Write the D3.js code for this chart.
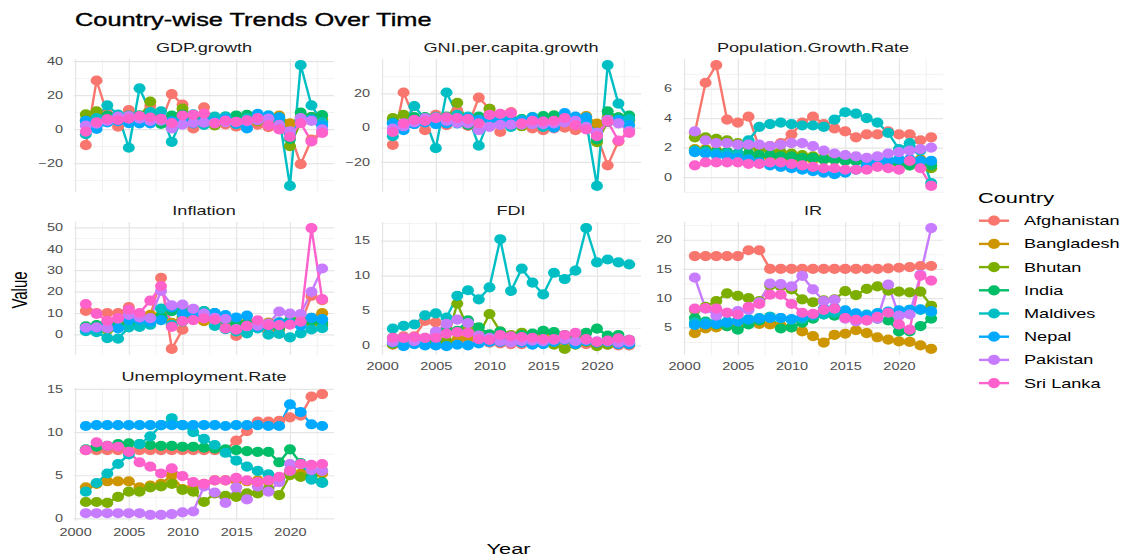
<!DOCTYPE html>
<html>
<head>
<meta charset="utf-8">
<script src="https://cdn.jsdelivr.net/npm/d3@7"></script>
<style>
  html, body { margin: 0; padding: 0; background: #fff; }
  svg { display: block; font-family: "Liberation Sans", Arial, sans-serif; }
</style>
</head>
<body>
<svg id="chart" width="1131" height="557"></svg>
<script>
// ---- data ---------------------------------------------------------------
const years = [2001, 2002, 2003, 2004, 2005, 2006, 2007, 2008, 2009, 2010, 2011, 2012,
               2013, 2014, 2015, 2016, 2017, 2018, 2019, 2020, 2021, 2022, 2023];

const countries = ["Afghanistan", "Bangladesh", "Bhutan", "India", "Maldives", "Nepal", "Pakistan", "Sri Lanka"];
const countryColors = ["#F8766D", "#CD9600", "#7CAE00", "#00BE67", "#00BFC4", "#00A9FF", "#C77CFF", "#FF61CC"];

const metricNames = ["GDP.growth", "GNI.per.capita.growth", "Population.Growth.Rate",
                     "Inflation", "FDI", "IR", "Unemployment.Rate"];

// one row per country, in the order of `countries`
const gdpGrowth = [
  [-9.4, 28.6, 8.8, 1.4, 11.2, 5.4, 13.8, 3.9, 20.6, 14.4, 0.4, 12.8, 5.6, 2.7, 1.5, 2.3, 2.6, 1.2, 3.9, -2.4, -20.7, -6.2, -1.6],
  [5.3, 3.8, 5.3, 5.2, 6.5, 6.7, 7.1, 6.0, 5.0, 5.6, 6.5, 6.5, 6.0, 6.1, 6.6, 7.1, 6.6, 7.3, 7.9, 3.4, 6.9, 7.1, 5.8],
  [8.6, 10.5, 7.2, 5.9, 7.1, 6.8, 16.2, 4.7, 6.7, 12.0, 7.9, 5.1, 2.1, 5.7, 6.6, 8.1, 4.7, 3.1, 5.8, -10.0, 4.1, 5.2, 4.9],
  [4.8, 3.8, 7.9, 7.9, 7.9, 8.1, 7.7, 3.1, 7.9, 8.5, 5.2, 5.5, 6.4, 7.4, 8.0, 8.3, 6.8, 6.5, 3.9, -5.8, 9.7, 7.0, 8.2],
  [-3.0, 6.5, 14.0, 8.5, -11.0, 24.0, 10.0, 10.5, -7.5, 7.3, 8.6, 2.5, 7.3, 7.3, 2.9, 6.3, 7.2, 8.1, 6.9, -33.5, 37.7, 13.9, 4.0],
  [4.8, 0.1, 3.9, 4.7, 3.5, 3.4, 3.4, 6.1, 4.5, 4.8, 3.4, 4.8, 4.1, 6.0, 3.3, 0.4, 9.0, 7.6, 6.7, -2.4, 4.8, 5.6, 2.0],
  [2.0, 3.2, 4.8, 7.4, 7.7, 6.2, 4.8, 5.0, 0.4, 2.6, 3.6, 3.8, 3.7, 4.1, 4.1, 4.6, 5.2, 6.2, 2.5, -1.3, 6.5, 4.8, -0.2],
  [-1.5, 4.0, 5.9, 5.4, 6.2, 7.7, 6.8, 6.0, 3.5, 8.0, 8.4, 9.1, 3.4, 5.0, 4.2, 5.1, 6.5, 2.3, -0.2, -4.6, 3.5, -7.3, -2.3]
];

const gniGrowth = [
  [-10.0, 20.5, 5.5, -1.5, 7.5, 1.5, 10.0, 1.0, 17.5, 11.0, -2.5, 9.0, 2.5, -0.5, -1.5, -0.5, 0.0, -1.5, 1.5, -4.5, -22.0, -8.0, -1.5],
  [3.5, 2.0, 3.8, 3.8, 5.0, 5.4, 5.9, 4.9, 4.0, 4.5, 5.4, 5.4, 4.9, 5.0, 5.4, 6.0, 5.5, 6.2, 6.8, 2.3, 5.7, 5.9, 4.8],
  [5.5, 7.5, 4.5, 3.5, 5.0, 5.0, 14.5, 3.0, 5.0, 11.0, 6.5, 3.7, 0.8, 4.4, 5.4, 7.0, 3.6, 2.1, 4.8, -8.5, 3.4, 4.5, 4.2],
  [3.0, 2.0, 6.2, 6.2, 6.3, 6.5, 6.2, 1.6, 6.4, 7.0, 3.8, 4.1, 5.0, 6.1, 6.7, 7.0, 5.6, 5.3, 2.8, -6.8, 9.5, 6.0, 7.0],
  [-5.0, 2.5, 12.5, 5.0, -12.0, 20.5, 7.5, 6.5, -10.5, 5.5, 6.5, 0.5, 4.5, 5.0, 0.5, 2.5, 3.5, 5.0, 3.5, -34.0, 36.5, 14.0, 5.0],
  [2.5, -1.5, 2.0, 3.0, 2.0, 2.5, 2.5, 5.5, 4.5, 5.0, 3.5, 4.5, 4.0, 6.0, 3.5, 0.0, 8.5, 6.5, 6.0, -3.0, 3.5, 4.5, 1.5],
  [-0.5, 0.8, 3.0, 5.5, 6.0, 4.0, 2.7, 2.5, -1.5, 0.5, 1.6, 1.8, 1.7, 2.0, 2.0, 2.5, 3.0, 4.0, 0.5, -3.0, 4.5, 2.5, -2.0],
  [-2.5, 2.5, 4.5, 4.0, 5.5, 6.0, 5.5, 5.0, 2.5, 7.5, 8.0, 8.5, 2.5, 4.0, 3.5, 4.0, 5.5, 1.5, -1.0, -5.0, 3.5, -7.5, -3.0]
];

const popGrowth = [
  [3.0, 6.4, 7.6, 3.9, 3.7, 4.1, 2.0, 2.1, 2.3, 2.9, 3.7, 4.1, 3.6, 3.3, 3.1, 2.7, 2.9, 2.9, 3.1, 2.9, 2.9, 2.5, 2.7],
  [1.9, 1.9, 1.8, 1.7, 1.6, 1.5, 1.4, 1.3, 1.3, 1.2, 1.2, 1.2, 1.2, 1.2, 1.2, 1.2, 1.1, 1.1, 1.1, 1.1, 1.1, 1.2, 1.0],
  [2.7, 2.7, 2.6, 2.5, 2.3, 2.1, 1.9, 1.8, 1.7, 1.6, 1.5, 1.4, 1.3, 1.2, 1.2, 1.1, 1.1, 1.0, 1.0, 0.9, 0.8, 0.7, 0.6],
  [1.8, 1.8, 1.7, 1.7, 1.6, 1.6, 1.5, 1.5, 1.4, 1.4, 1.3, 1.3, 1.2, 1.2, 1.1, 1.1, 1.0, 1.0, 1.0, 1.0, 0.8, 0.7, 0.8],
  [1.8, 1.7, 1.6, 1.6, 1.6, 2.5, 3.4, 3.6, 3.7, 3.6, 3.5, 3.5, 3.4, 3.9, 4.4, 4.3, 4.0, 3.7, 3.0, 1.9, 2.3, 1.8, -0.4],
  [1.7, 1.6, 1.5, 1.4, 1.3, 1.2, 1.0, 0.8, 0.7, 0.6, 0.5, 0.4, 0.3, 0.2, 0.3, 0.5, 0.8, 1.0, 1.1, 1.2, 1.2, 1.1, 1.1],
  [3.1, 2.5, 2.3, 2.3, 2.2, 2.2, 2.2, 2.1, 2.2, 2.3, 2.3, 2.1, 1.8, 1.6, 1.5, 1.4, 1.3, 1.4, 1.6, 1.7, 1.8, 1.9, 2.0],
  [0.8, 1.0, 1.0, 1.0, 1.0, 0.9, 0.9, 1.0, 1.0, 0.9, 0.8, 0.7, 0.6, 0.6, 0.5, 0.5, 0.5, 0.7, 0.6, 0.5, 1.1, 0.6, -0.6]
];

const inflation = [
  [11.0, 10.0, 10.0, 10.0, 12.7, 7.3, 8.7, 26.4, -6.8, 2.2, 11.8, 6.4, 7.4, 4.7, -0.7, 4.4, 5.0, 0.6, 2.3, 5.6, 5.1, 18.0, 16.0],
  [1.9, 3.7, 5.4, 6.1, 7.0, 6.8, 9.1, 8.9, 5.4, 8.1, 10.7, 6.2, 7.5, 7.0, 6.2, 5.5, 5.7, 5.5, 5.6, 5.7, 5.6, 7.7, 9.9],
  [3.4, 2.5, 2.1, 4.6, 5.3, 5.0, 5.2, 8.3, 4.4, 7.0, 8.8, 10.9, 7.0, 8.2, 4.6, 3.3, 4.3, 3.6, 2.7, 5.6, 7.4, 5.6, 4.2],
  [3.8, 4.3, 3.8, 3.8, 4.2, 5.8, 6.4, 8.4, 10.9, 12.0, 8.9, 9.5, 10.0, 6.7, 4.9, 4.9, 3.3, 3.9, 3.7, 6.6, 5.1, 6.7, 5.6],
  [1.5, 1.0, -1.7, -2.0, 3.3, 3.5, 4.5, 12.0, 4.5, 6.1, 11.3, 10.9, 4.0, 2.5, 1.4, 0.5, 2.8, -0.1, 0.2, -1.4, 0.5, 2.3, 2.9],
  [2.7, 3.0, 5.7, 2.8, 6.8, 6.9, 5.8, 6.7, 12.6, 9.6, 9.6, 8.3, 9.9, 9.0, 7.9, 8.8, 3.6, 4.1, 5.6, 5.1, 4.1, 7.7, 7.1],
  [3.1, 3.3, 2.9, 7.4, 9.1, 7.9, 7.6, 20.3, 13.6, 13.9, 11.9, 9.7, 7.7, 7.2, 2.5, 3.8, 4.1, 5.1, 10.6, 9.7, 9.5, 19.9, 30.8],
  [14.2, 9.6, 6.3, 7.6, 11.6, 10.0, 15.8, 22.6, 3.5, 6.2, 6.7, 7.5, 6.9, 2.8, 2.2, 4.0, 6.6, 4.3, 4.3, 4.6, 6.0, 49.7, 16.5]
];

const fdi = [
  [0.1, 1.3, 1.3, 3.5, 3.3, 3.0, 1.9, 0.5, 0.4, 0.4, 0.3, 0.2, 0.2, 0.2, 0.9, 0.5, 0.3, 0.6, 0.2, 0.1, 0.1, 0.0, 0.0],
  [0.2, 0.1, 0.6, 0.8, 1.1, 0.6, 0.8, 1.2, 0.7, 1.2, 0.9, 1.2, 1.7, 1.5, 1.5, 0.9, 0.8, 0.9, 0.6, 0.4, 0.5, 0.4, 0.3],
  [0.2, 0.3, 0.5, 0.3, 0.7, 0.6, 6.0, 2.4, 1.5, 4.5, 2.0, 1.5, 1.8, 1.4, 0.3, 0.1, -0.5, 0.1, 0.5, -0.1, 0.1, 0.3, 0.2],
  [1.1, 1.0, 0.6, 0.8, 0.9, 2.1, 2.1, 3.6, 2.6, 1.6, 2.0, 1.3, 1.5, 1.7, 2.1, 1.9, 1.5, 1.6, 1.8, 2.4, 1.4, 1.5, 0.8],
  [2.4, 2.8, 3.0, 4.3, 4.6, 4.0, 7.1, 7.9, 6.6, 8.3, 15.2, 7.8, 11.0, 9.0, 7.3, 10.4, 9.5, 10.7, 16.8, 11.9, 12.3, 11.9, 11.6],
  [0.4, -0.1, 0.2, 0.0, 0.0, -0.1, 0.1, 0.0, 0.3, 0.5, 0.5, 0.5, 0.4, 0.1, 0.2, 0.5, 0.8, 0.2, 0.6, 0.4, 0.5, 0.2, 0.2],
  [0.5, 1.1, 0.6, 1.1, 2.0, 3.1, 3.7, 3.2, 1.4, 1.1, 0.6, 0.4, 0.6, 0.7, 0.6, 0.8, 0.9, 0.6, 0.8, 0.6, 0.6, 0.4, 0.5],
  [1.1, 1.1, 1.2, 1.1, 1.1, 1.7, 1.9, 1.8, 0.9, 0.8, 1.5, 1.3, 1.2, 1.1, 0.9, 0.9, 1.5, 1.8, 0.9, 0.5, 0.7, 1.0, 0.8]
];

const interestRate = [
  [17.2, 17.2, 17.2, 17.2, 17.2, 18.2, 18.2, 15.0, 15.0, 15.0, 15.0, 15.0, 15.0, 15.0, 15.0, 15.0, 15.0, 15.0, 15.1, 15.2, 15.3, 15.5, 15.5],
  [4.0, 4.8, 5.0, 5.2, 5.5, 5.8, 5.6, 5.5, 5.3, 5.0, 4.3, 3.5, 2.4, 3.7, 3.9, 4.5, 4.0, 3.3, 2.9, 2.6, 2.5, 1.9, 1.3],
  [8.0, 8.5, 9.5, 10.8, 10.4, 10.0, 9.5, 12.2, 12.0, 11.5, 9.8, 9.3, 9.6, 9.8, 11.2, 10.5, 11.6, 12.0, 11.3, 11.1, 11.0, 11.1, 8.7],
  [6.6, 6.0, 5.5, 5.2, 4.6, 5.5, 6.2, 6.8, 4.8, 5.0, 5.8, 6.5, 7.2, 7.0, 7.5, 7.0, 6.5, 6.5, 6.2, 4.3, 4.3, 5.2, 6.5],
  [5.8, 5.8, 5.9, 6.0, 6.2, 6.4, 6.6, 6.8, 6.6, 6.3, 6.5, 7.0, 7.2, 7.5, 7.6, 7.3, 7.2, 7.4, 7.6, 7.8, 8.0, 8.0, 7.6],
  [5.4, 5.5, 5.6, 5.8, 6.0, 6.3, 6.5, 6.6, 6.6, 6.4, 6.8, 7.2, 8.2, 8.3, 7.9, 7.4, 7.0, 7.4, 7.7, 7.9, 8.0, 8.1, 7.8],
  [13.5, 8.2, 7.0, 7.5, 7.8, 8.0, 9.3, 12.5, 12.4, 12.0, 13.8, 11.5, 9.5, 9.7, 6.5, 6.0, 6.2, 6.5, 12.3, 7.0, 7.2, 14.0, 22.0],
  [8.2, 8.3, 8.2, 7.5, 7.2, 8.5, 9.0, 10.6, 10.6, 9.0, 7.5, 7.3, 8.0, 8.2, 6.6, 6.3, 6.2, 6.8, 7.5, 5.5, 4.6, 13.8, 13.0]
];

const unemployment = [
  [7.9, 7.9, 7.9, 7.9, 7.9, 7.9, 7.9, 7.9, 7.9, 7.9, 7.9, 7.9, 7.9, 7.9, 9.0, 10.1, 11.2, 11.2, 11.3, 11.7, 11.9, 14.1, 14.4],
  [3.6, 4.0, 4.3, 4.3, 4.3, 3.6, 3.8, 4.0, 5.0, 3.4, 3.7, 4.0, 4.4, 4.4, 4.4, 4.3, 4.4, 4.3, 4.4, 5.4, 5.2, 4.7, 5.2],
  [1.9, 1.9, 1.8, 2.5, 3.1, 3.1, 3.6, 3.7, 4.0, 3.3, 3.1, 1.9, 2.9, 2.6, 2.5, 2.9, 2.9, 3.4, 2.7, 5.0, 4.8, 5.5, 5.5],
  [8.0, 8.3, 8.4, 8.6, 8.7, 8.6, 8.5, 8.4, 8.4, 8.3, 8.3, 8.2, 8.1, 8.0, 7.9, 7.8, 7.7, 7.7, 6.5, 8.0, 6.4, 4.8, 4.2],
  [3.1, 4.1, 5.2, 6.3, 7.4, 8.6, 9.5, 10.8, 11.6, 10.8, 10.0, 9.2, 8.5, 7.6, 6.7, 6.0, 5.5, 5.1, 4.6, 5.5, 6.3, 4.5, 4.1],
  [10.7, 10.8, 10.8, 10.8, 10.8, 10.8, 10.8, 10.8, 10.8, 10.8, 10.8, 10.8, 10.8, 10.7, 10.8, 10.8, 10.8, 10.7, 10.7, 13.2, 12.3, 10.9, 10.7],
  [0.6, 0.6, 0.6, 0.6, 0.6, 0.6, 0.4, 0.4, 0.5, 0.7, 0.8, 3.7, 3.0, 1.8, 3.6, 2.2, 3.7, 3.1, 4.2, 6.3, 6.3, 5.6, 5.5],
  [7.9, 8.8, 8.4, 8.3, 7.7, 6.5, 6.0, 5.2, 5.8, 4.9, 4.2, 4.0, 4.4, 4.4, 4.7, 4.4, 4.2, 4.4, 4.8, 5.5, 6.3, 6.2, 6.3]
];

const metricValues = [gdpGrowth, gniGrowth, popGrowth, inflation, fdi, interestRate, unemployment];

// axis breaks
const xTickValues = [2000, 2005, 2010, 2015, 2020];
const xMinorValues = [2002.5, 2007.5, 2012.5, 2017.5, 2022.5];
const yTickValues = [
  [-20, 0, 20, 40],
  [-20, 0, 20],
  [0, 2, 4, 6],
  [0, 10, 20, 30, 40, 50],
  [0, 5, 10, 15],
  [5, 10, 15, 20],
  [0, 5, 10, 15]
];

// ---- layout -------------------------------------------------------------
const SX = 1.45;                      // horizontal stretch applied to all text
const FONT = "Liberation Sans, Arial, sans-serif";
const colLeft = [74, 381, 683];
const rowTop = [59, 222, 388];
const panelW = 260, panelH = 133;
const nCols = 3;
const PT_RX = 6.0, PT_RY = 5.1, LINE_W = 2.4;

const svg = d3.select("#chart");

function label(parent, x, y, txt, size, fill, anchor, rotate) {
  return parent.append("text")
    .attr("transform", `translate(${x},${y}) scale(${SX},1)` + (rotate ? " rotate(-90)" : ""))
    .attr("text-anchor", anchor || "start")
    .attr("font-size", size)
    .attr("font-family", FONT)
    .attr("fill", fill)
    .text(txt);
}

// shared x scale (ggplot-style 5% expansion)
const yearSpan = d3.max(years) - d3.min(years);
const x = d3.scaleLinear()
  .domain([d3.min(years) - yearSpan * 0.05, d3.max(years) + yearSpan * 0.05])
  .range([0, panelW]);

// the bottom panel of each column carries the year labels
const nPanels = metricNames.length;
function hasXAxis(i) { return i + nCols >= nPanels; }

metricNames.forEach((name, i) => {
  const row = Math.floor(i / nCols), col = i % nCols;
  const g = svg.append("g").attr("transform", `translate(${colLeft[col]},${rowTop[row]})`);
  const vals = metricValues[i];

  const [lo, hi] = d3.extent(vals.flat());
  const pad = (hi - lo) * 0.05;
  const y = d3.scaleLinear().domain([lo - pad, hi + pad]).range([panelH, 0]);

  const major = yTickValues[i];
  const step = major[1] - major[0];
  const minor = [];
  for (let v = major[0] - step / 2; v <= hi + pad; v += step) if (v >= lo - pad) minor.push(v);

  // minor grid
  const gMinY = g.append("g").call(d3.axisLeft(y).tickValues(minor).tickSize(-panelW).tickFormat(""));
  const gMinX = g.append("g").attr("transform", `translate(0,${panelH})`)
    .call(d3.axisBottom(x).tickValues(xMinorValues).tickSize(-panelH).tickFormat(""));
  [gMinY, gMinX].forEach(a => {
    a.select(".domain").remove();
    a.selectAll("line").attr("stroke", "#EFEFEF").attr("stroke-width", 0.8);
  });

  // major grid
  const gMajY = g.append("g").call(d3.axisLeft(y).tickValues(major).tickSize(-panelW).tickFormat(""));
  const gMajX = g.append("g").attr("transform", `translate(0,${panelH})`)
    .call(d3.axisBottom(x).tickValues(xTickValues).tickSize(-panelH).tickFormat(""));
  [gMajY, gMajX].forEach(a => {
    a.select(".domain").remove();
    a.selectAll("line").attr("stroke", "#E5E5E5").attr("stroke-width", 1.2);
  });

  // y tick labels
  const ay = g.append("g")
    .attr("font-family", FONT).attr("font-size", 12.5)
    .call(d3.axisLeft(y).tickValues(major).tickSize(0).tickPadding(11));
  ay.select(".domain").remove();
  ay.selectAll("text")
    .attr("fill", "#4D4D4D")
    .attr("x", -11 / SX)
    .attr("transform", `scale(${SX},1)`);

  // x tick labels
  if (hasXAxis(i)) {
    const ax = g.append("g").attr("transform", `translate(0,${panelH})`)
      .attr("font-family", FONT).attr("font-size", 12.5)
      .call(d3.axisBottom(x).tickValues(xTickValues).tickFormat(d3.format("d")).tickSize(0).tickPadding(8));
    ax.select(".domain").remove();
    ax.selectAll("text").attr("fill", "#4D4D4D").attr("transform", `scale(${SX},1)`);
  }

  // strip label
  label(g, panelW / 2, -7, name, 12.5, "#1A1A1A", "middle");

  // lines first, then points on top
  const line = d3.line().x((d, j) => x(years[j])).y(d => y(d));
  vals.forEach((series, c) => {
    g.append("path")
      .attr("d", line(series))
      .attr("fill", "none")
      .attr("stroke", countryColors[c])
      .attr("stroke-width", LINE_W)
      .attr("stroke-linejoin", "round");
  });
  vals.forEach((series, c) => {
    g.append("g").selectAll("ellipse")
      .data(series)
      .join("ellipse")
      .attr("cx", (d, j) => x(years[j]))
      .attr("cy", d => y(d))
      .attr("rx", PT_RX)
      .attr("ry", PT_RY)
      .attr("fill", countryColors[c]);
  });
});

// ---- titles -------------------------------------------------------------
label(svg, 75, 26, "Country-wise Trends Over Time", 17.5, "#000")
  .attr("stroke", "#000").attr("stroke-width", 0.35);
label(svg, (colLeft[0] + colLeft[2] + panelW) / 2, 554, "Year", 15, "#000", "middle");
label(svg, 27, (rowTop[0] + rowTop[2] + panelH) / 2, "Value", 15, "#000", "middle", true);

// ---- legend -------------------------------------------------------------
const legend = svg.append("g");
label(legend, 978, 203, "Country", 15, "#000");
countries.forEach((name, i) => {
  const cy = 220.7 + i * 23.2;
  legend.append("line")
    .attr("x1", 979).attr("x2", 1009).attr("y1", cy).attr("y2", cy)
    .attr("stroke", countryColors[i]).attr("stroke-width", LINE_W);
  legend.append("ellipse")
    .attr("cx", 994).attr("cy", cy).attr("rx", PT_RX).attr("ry", PT_RY)
    .attr("fill", countryColors[i]);
  label(legend, 1024, cy + 4.5, name, 12.5, "#000");
});
</script>
</body>
</html>
